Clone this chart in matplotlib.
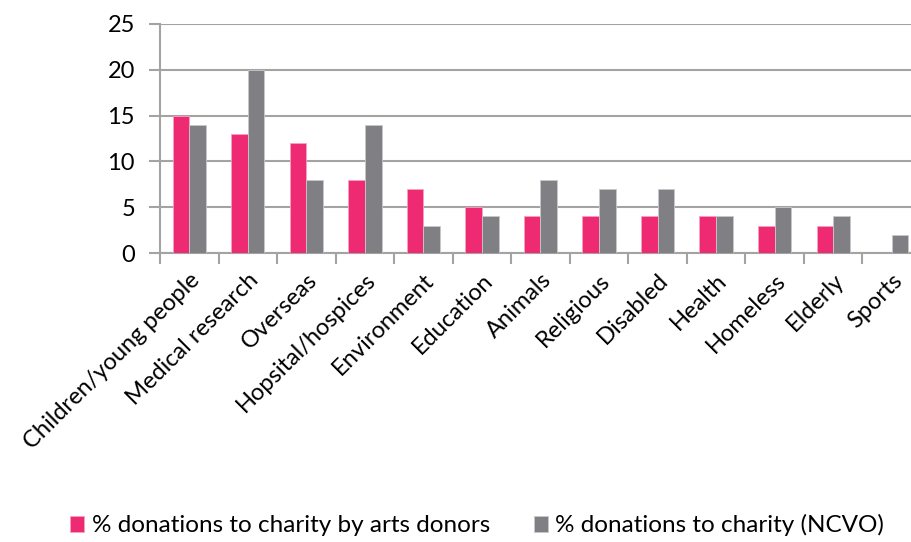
import matplotlib.pyplot as plt
import numpy as np

categories = ['Children/young people', 'Medical research', 'Overseas', 'Hopsital/hospices',
              'Environment', 'Education', 'Animals', 'Religious', 'Disabled', 'Health',
              'Homeless', 'Elderly', 'Sports']
arts_donors = [15, 13, 12, 8, 7, 5, 4, 4, 4, 4, 3, 3, 0]
ncvo = [14, 20, 8, 14, 3, 4, 8, 7, 7, 4, 5, 4, 2]

pink = '#EE2A73'
grey = '#807F84'
line_grey = '#A3A3A3'

plt.rcParams['font.family'] = ['Lato', 'DejaVu Sans']

fig = plt.figure(figsize=(9.12, 5.42), dpi=100)
ax = fig.add_axes([160/912, 1 - 253/542, 761/912, 229/542])

x = np.arange(len(categories))
w = 0.285
ax.bar(x - w/2, arts_donors, w, color=pink, edgecolor='#F5A0C0', linewidth=0.6,
       label='% donations to charity by arts donors', zorder=3)
ax.bar(x + w/2, ncvo, w, color=grey, edgecolor='#C8C8CA', linewidth=0.6,
       label='% donations to charity (NCVO)', zorder=3)

ax.set_xlim(-0.5, len(categories) - 0.5)
ax.set_ylim(0, 25)
ax.set_yticks([0, 5, 10, 15, 20, 25])
ax.yaxis.grid(True, color=line_grey, linewidth=1.5, zorder=0)
ax.set_axisbelow(True)

for s in ['top', 'right']:
    ax.spines[s].set_visible(False)
for s in ['left', 'bottom']:
    ax.spines[s].set_color(line_grey)
    ax.spines[s].set_linewidth(1.5)

ax.set_xticks(x)
ax.set_xticklabels(categories, rotation=45, ha='right', rotation_mode='anchor', fontsize=17)
ax.set_xticks(np.arange(len(categories) + 1) - 0.5, minor=True)
ax.tick_params(axis='x', which='major', length=0, pad=12)
ax.tick_params(axis='x', which='minor', length=8, width=1.5, color=line_grey)
ax.tick_params(axis='y', length=8, width=1.5, color=line_grey, labelsize=17, pad=10)

fig.legend(loc='lower center', bbox_to_anchor=(0.523, -0.03), ncol=2, frameon=False,
           fontsize=17.5, handlelength=0.6, handleheight=0.6, handletextpad=0.3,
           columnspacing=1.8)

fig.savefig('out.png', dpi=100)
